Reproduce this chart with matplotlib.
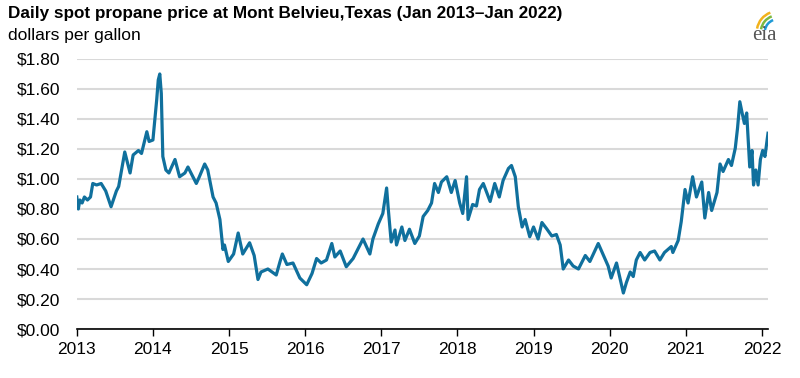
import matplotlib.pyplot as plt
from matplotlib.patches import Arc

# decimal year, dollars per gallon
dates = [
    2013.00, 2013.02, 2013.04, 2013.07, 2013.10, 2013.14, 2013.18, 2013.21, 2013.26, 2013.32,
    2013.38, 2013.45, 2013.52, 2013.55, 2013.63, 2013.68, 2013.70, 2013.74, 2013.81, 2013.85,
    2013.92, 2013.95, 2014.00, 2014.05, 2014.07, 2014.09, 2014.11, 2014.13, 2014.17, 2014.21,
    2014.29, 2014.35, 2014.42, 2014.46, 2014.50, 2014.57, 2014.61, 2014.68, 2014.72, 2014.79,
    2014.83, 2014.88, 2014.92, 2014.94, 2014.99, 2015.06, 2015.12, 2015.18, 2015.27, 2015.33,
    2015.38, 2015.42, 2015.51, 2015.62, 2015.67, 2015.70, 2015.76, 2015.84, 2015.93, 2016.02,
    2016.09, 2016.15, 2016.21, 2016.28, 2016.35, 2016.39, 2016.46, 2016.54, 2016.63, 2016.76,
    2016.85, 2016.89, 2016.96, 2017.02, 2017.07, 2017.09, 2017.13, 2017.18, 2017.20, 2017.27,
    2017.31, 2017.37, 2017.44, 2017.50, 2017.55, 2017.61, 2017.66, 2017.70, 2017.75, 2017.79,
    2017.86, 2017.92, 2017.97, 2018.03, 2018.07, 2018.12, 2018.14, 2018.20, 2018.25, 2018.29,
    2018.34, 2018.43, 2018.49, 2018.55, 2018.60, 2018.67, 2018.71, 2018.76, 2018.80, 2018.85,
    2018.89, 2018.95, 2019.00, 2019.06, 2019.11, 2019.17, 2019.24, 2019.30, 2019.35, 2019.39,
    2019.46, 2019.52, 2019.59, 2019.68, 2019.74, 2019.85, 2019.91, 2019.98, 2020.02, 2020.09,
    2020.13, 2020.18, 2020.22, 2020.27, 2020.31, 2020.35, 2020.40, 2020.46, 2020.53, 2020.59,
    2020.66, 2020.72, 2020.81, 2020.83, 2020.90, 2020.94, 2020.99, 2021.03, 2021.09, 2021.14,
    2021.21, 2021.25, 2021.30, 2021.34, 2021.41, 2021.45, 2021.49, 2021.56, 2021.60, 2021.65,
    2021.68, 2021.71, 2021.74, 2021.77, 2021.80, 2021.84, 2021.87, 2021.89, 2021.92, 2021.95,
    2021.98, 2022.01, 2022.04, 2022.08,
]
prices = [
    0.88, 0.80, 0.86, 0.84, 0.88, 0.86, 0.88, 0.97, 0.96, 0.97,
    0.92, 0.815, 0.92, 0.95, 1.18, 1.08, 1.04, 1.16, 1.19, 1.17,
    1.315, 1.25, 1.26, 1.53, 1.66, 1.70, 1.57, 1.15, 1.06, 1.04,
    1.13, 1.015, 1.04, 1.08, 1.04, 0.97, 1.015, 1.10, 1.06, 0.88,
    0.84, 0.73, 0.53, 0.56, 0.45, 0.50, 0.64, 0.50, 0.575, 0.49,
    0.33, 0.38, 0.40, 0.36, 0.45, 0.50, 0.43, 0.44, 0.34, 0.295,
    0.37, 0.47, 0.44, 0.46, 0.57, 0.48, 0.52, 0.415, 0.47, 0.60,
    0.50, 0.60, 0.70, 0.77, 0.94, 0.81, 0.58, 0.66, 0.56, 0.68,
    0.59, 0.665, 0.57, 0.62, 0.75, 0.79, 0.84, 0.97, 0.91, 0.98,
    1.015, 0.91, 0.99, 0.84, 0.77, 1.015, 0.73, 0.83, 0.82, 0.93,
    0.97, 0.85, 0.97, 0.88, 0.99, 1.07, 1.09, 1.015, 0.815, 0.68,
    0.73, 0.615, 0.68, 0.60, 0.71, 0.67, 0.62, 0.63, 0.56, 0.40,
    0.46, 0.42, 0.40, 0.49, 0.45, 0.57, 0.50, 0.42, 0.34, 0.44,
    0.35, 0.24, 0.31, 0.38, 0.35, 0.46, 0.51, 0.46, 0.51, 0.52,
    0.46, 0.51, 0.55, 0.51, 0.59, 0.715, 0.93, 0.84, 1.015, 0.88,
    0.98, 0.74, 0.91, 0.79, 0.91, 1.10, 1.05, 1.13, 1.09, 1.205,
    1.34, 1.515, 1.44, 1.37, 1.44, 1.08, 1.19, 0.96, 1.06, 0.96,
    1.13, 1.19, 1.15, 1.305,
]
years = list(range(2013, 2023))
yticks = [0.0, 0.2, 0.4, 0.6, 0.8, 1.0, 1.2, 1.4, 1.6, 1.8]

plt.rcParams['font.family'] = ['Liberation Sans', 'DejaVu Sans']

fig = plt.figure(figsize=(8, 3.78), dpi=100)
ax = fig.add_axes([0.096, 0.1296, 0.864, 0.7144])

ax.plot(dates, prices, color='#10709d', linewidth=2.3, solid_joinstyle='round')

ax.set_xlim(2013, 2022.08)
ax.set_ylim(0, 1.8)
ax.set_yticks(yticks)
ax.set_yticklabels(['$%.2f' % v for v in yticks])
ax.set_xticks(years)
ax.set_xticklabels([str(y) for y in years])
ax.yaxis.grid(True, color='#d9d9d9', linewidth=1.5)
ax.set_axisbelow(True)

for s in ['top', 'right', 'left']:
    ax.spines[s].set_visible(False)
ax.spines['bottom'].set_color('black')
ax.spines['bottom'].set_linewidth(1.2)
ax.tick_params(axis='y', length=0, labelsize=12.5, pad=12)
ax.tick_params(axis='x', length=5, width=1, direction='out', labelsize=12.5, pad=4)

fig.text(0.01, 0.963, 'Daily spot propane price at Mont Belvieu,Texas (Jan 2013\u2013Jan 2022)',
         fontsize=12.3, fontweight='bold', va='center', ha='left')
fig.text(0.01, 0.905, 'dollars per gallon', fontsize=12.5, va='center', ha='left')

# eia logo
fig.text(0.955, 0.905, 'eia', family=['Liberation Serif', 'DejaVu Serif'], fontsize=15,
         color='#555555', ha='center', va='center')
for r, c in [(0.026, '#f2b21b'), (0.021, '#7bb842'), (0.016, '#1f9ad6')]:
    fig.patches.append(Arc((0.972, 0.915), r * 2, r * 2 * 800 / 378, theta1=100, theta2=160,
                           transform=fig.transFigure, color=c, linewidth=1.8))

fig.savefig('out.png', dpi=100)
